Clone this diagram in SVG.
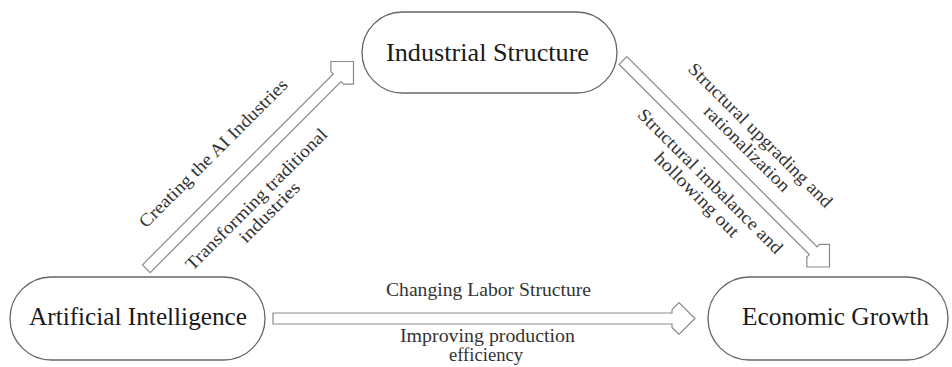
<svg xmlns="http://www.w3.org/2000/svg" width="952" height="367" viewBox="0 0 952 367">
<style>
.node rect{fill:#fff;stroke:#666;stroke-width:1.3}
.node text{font-family:"Liberation Serif","Times New Roman",serif;font-size:25.5px;fill:#1a1a1a;text-anchor:middle}
.arrow{fill:#fff;stroke:#8a8a8a;stroke-width:1.2;stroke-linejoin:miter}
.lbl{font-family:"Liberation Serif","Times New Roman",serif;font-size:18px;fill:#333;text-anchor:middle}
</style>
<rect width="952" height="367" fill="#fff"/>
<g id="connectors">
  <path class="arrow" transform="translate(273,318.5)" d="M0,-5.5 H399 V-9 L406,-16 L422,0 L406,16 L399,9 V5.5 H0 Z"/>
  <path class="arrow" transform="translate(146.3,268.7) rotate(-45)" d="M0,-5.5 H270 V-9 L277,-16 L293,0 L277,16 L270,9 V5.5 H0 Z"/>
  <path class="arrow" transform="translate(623,60.5) rotate(45)" d="M0,-5.5 H269 V-9 L276,-16 L292,0 L276,16 L269,9 V5.5 H0 Z"/>
</g>
<g id="labels">
  <text class="lbl" x="488.5" y="296" textLength="205" lengthAdjust="spacingAndGlyphs">Changing Labor Structure</text>
  <text class="lbl" x="487.5" y="342" textLength="175" lengthAdjust="spacingAndGlyphs">Improving production</text>
  <text class="lbl" x="486" y="361" textLength="74" lengthAdjust="spacingAndGlyphs">efficiency</text>
  <g transform="translate(146.3,268.7) rotate(-45)">
    <text class="lbl" x="129" y="-28.5" textLength="202" lengthAdjust="spacingAndGlyphs">Creating the AI Industries</text>
    <text class="lbl" x="127" y="34.5" textLength="192" lengthAdjust="spacingAndGlyphs">Transforming traditional</text>
    <text class="lbl" x="127" y="53" textLength="78" lengthAdjust="spacingAndGlyphs">industries</text>
  </g>
  <g transform="translate(623,60.5) rotate(45)">
    <text class="lbl" x="150" y="-38.5" textLength="196" lengthAdjust="spacingAndGlyphs">Structural upgrading and</text>
    <text class="lbl" x="150" y="-19.5" textLength="114" lengthAdjust="spacingAndGlyphs">rationalization</text>
    <text class="lbl" x="147" y="29.5" textLength="197" lengthAdjust="spacingAndGlyphs">Structural imbalance and</text>
    <text class="lbl" x="147" y="48.5" textLength="112" lengthAdjust="spacingAndGlyphs">hollowing out</text>
  </g>
</g>
<g id="node-industrial" class="node">
  <rect x="362" y="12" width="255" height="81" rx="40.5"/>
  <text x="487.5" y="61" textLength="203" lengthAdjust="spacingAndGlyphs">Industrial Structure</text>
</g>
<g id="node-ai" class="node">
  <rect x="10" y="277" width="255" height="83" rx="41.5"/>
  <text x="138" y="325" textLength="218" lengthAdjust="spacingAndGlyphs">Artificial Intelligence</text>
</g>
<g id="node-growth" class="node">
  <rect x="708" y="277" width="240" height="83" rx="41.5"/>
  <text x="835.5" y="325" textLength="187" lengthAdjust="spacingAndGlyphs">Economic Growth</text>
</g>
</svg>
